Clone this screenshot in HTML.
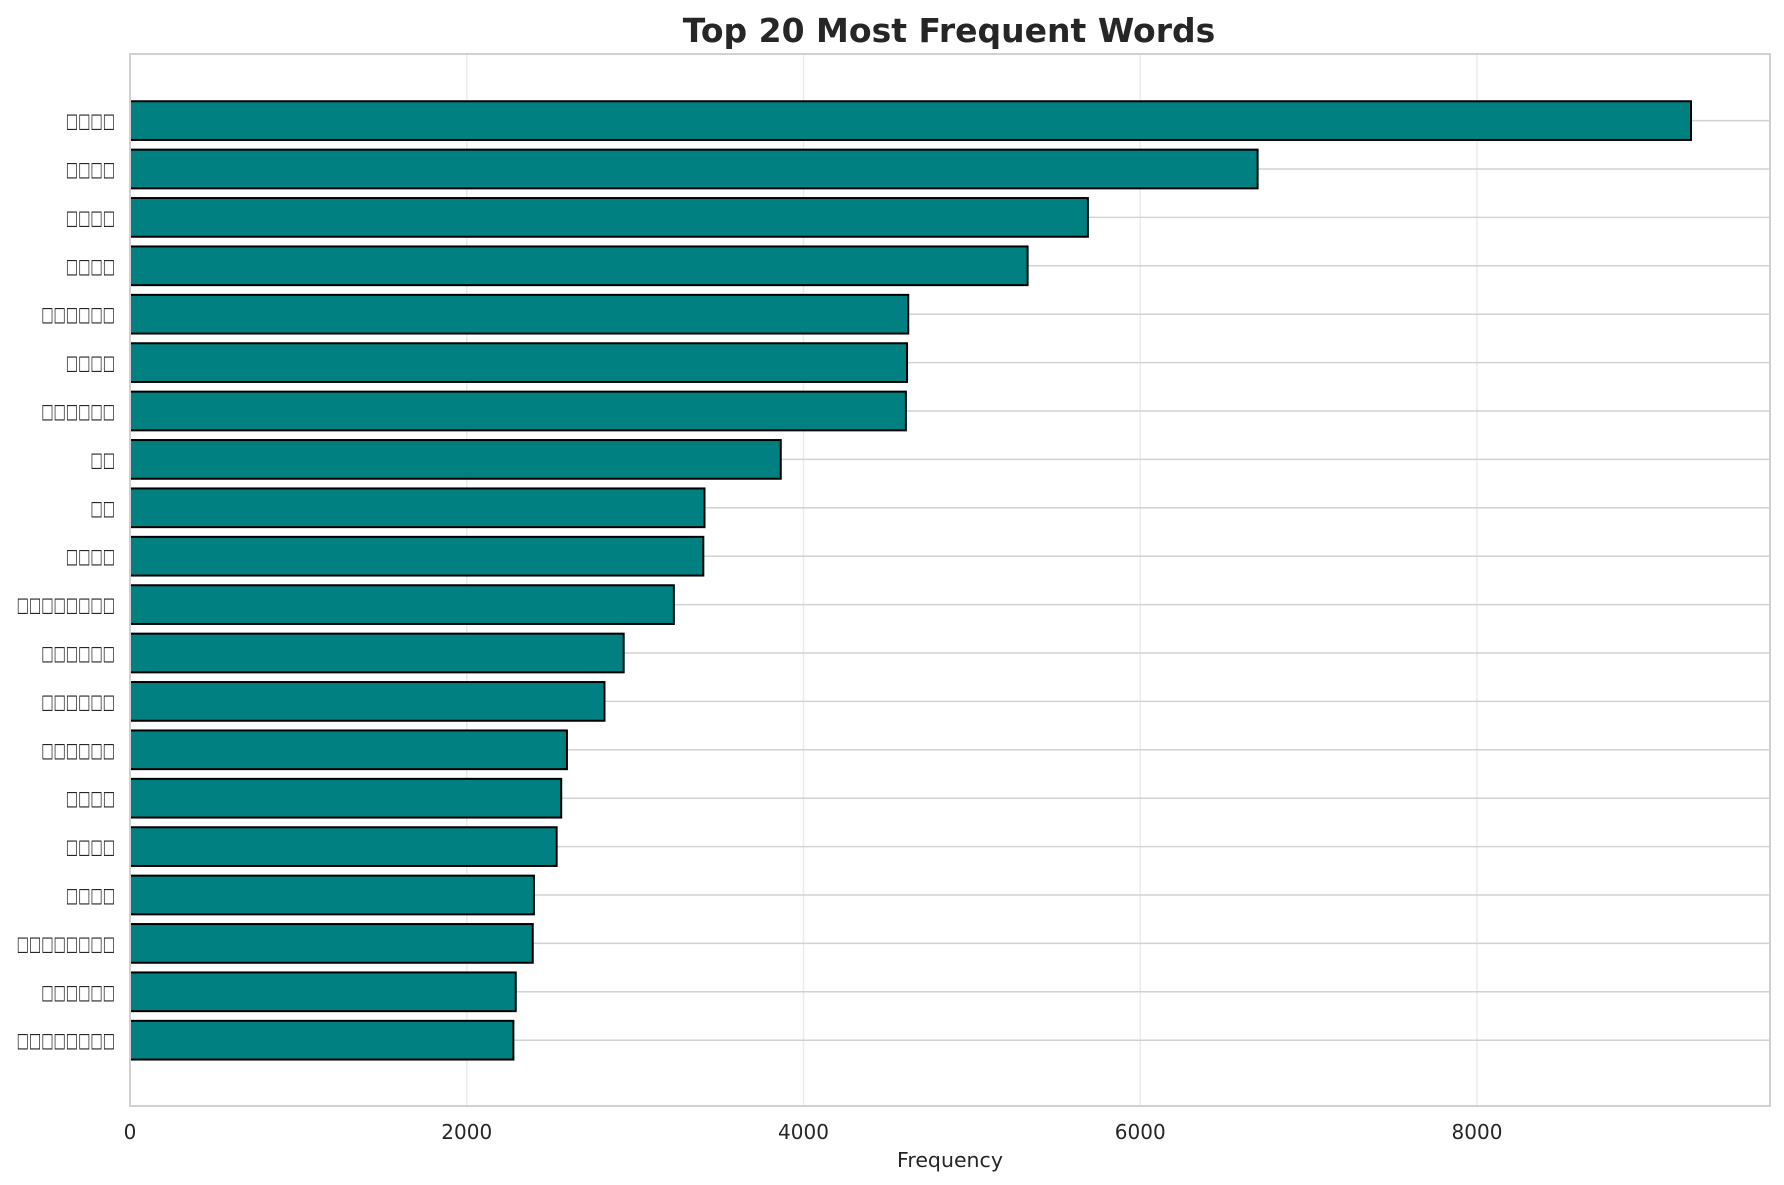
<!DOCTYPE html>
<html><head><meta charset="utf-8"><style>
body{margin:0;background:#fff}
svg{display:block}
</style></head><body>
<svg id="c" width="1784" height="1185" xmlns="http://www.w3.org/2000/svg" font-family="'DejaVu Sans','Liberation Sans',sans-serif">
<rect width="1784" height="1185" fill="#fff"/>
<text x="949" y="42" text-anchor="middle" font-size="33" font-weight="bold" fill="#262626">Top 20 Most Frequent Words</text>
<g id="g"></g>
<text x="950" y="1167" text-anchor="middle" font-size="20.5" fill="#262626">Frequency</text>
</svg>
<script>
var vals=[9271,6697,5689,5331,4622,4615,4608,3865,3412,3405,3230,2932,2818,2595,2561,2534,2399,2392,2291,2277];
var n=[4,4,4,4,6,4,6,2,2,4,8,6,6,6,4,4,4,8,6,8];
var L=130,R=1770,T=54,B=1106,s=1347/8000,y0=120.6,dy=48.4,h=38.7;
var o='';
for(var t=0;t<=8000;t+=2000){var x=L+t*s;o+='<line x1="'+x+'" y1="'+T+'" x2="'+x+'" y2="'+B+'" stroke="#ebebeb" stroke-width="1.5"/>';
o+='<text x="'+x+'" y="1139" text-anchor="middle" font-size="20" fill="#262626">'+t+'</text>';}
for(var i=0;i<20;i++){var y=y0+i*dy;o+='<line x1="'+L+'" y1="'+y+'" x2="'+R+'" y2="'+y+'" stroke="#d2d2d2" stroke-width="1.5"/>';}
for(var i=0;i<20;i++){var y=y0+i*dy;o+='<rect x="'+L+'" y="'+(y-h/2)+'" width="'+(vals[i]*s)+'" height="'+h+'" fill="#008080" stroke="#000" stroke-width="2"/>';
var w=n[i]*12.3;o+='<text x="'+(115-w)+'" y="'+(y+7)+'" font-size="20" fill="#262626" textLength="'+w+'" lengthAdjust="spacingAndGlyphs">'+'□'.repeat(n[i])+'</text>';}
o+='<rect x="'+L+'" y="'+T+'" width="'+(R-L)+'" height="'+(B-T)+'" fill="none" stroke="#d0d0d0" stroke-width="2"/>';
document.getElementById('g').innerHTML=o;
</script>
</body></html>
